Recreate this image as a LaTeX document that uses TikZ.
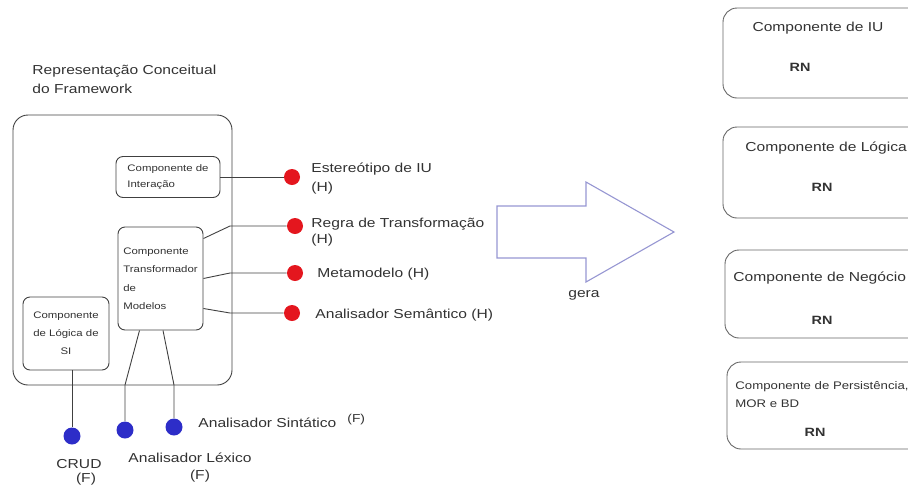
\documentclass[tikz,border=0pt]{standalone}
\usepackage{fontspec}
\setmainfont{Liberation Sans}[FakeStretch=1.2]
\definecolor{hred}{RGB}{228,22,30}
\definecolor{fblue}{RGB}{45,45,200}
\definecolor{seta}{RGB}{150,150,210}
\definecolor{texto}{RGB}{50,50,50}
\begin{document}
\begin{tikzpicture}[x=1pt, y=-1pt, line width=0.9pt,
    comp/.style={draw=black!75, rounded corners=7, font=\fontsize{9.5}{16}\selectfont, text=texto, inner sep=0},
    camada/.style={draw=black!60, rounded corners=14},
    hdot/.style={circle, fill=hred, inner sep=0, minimum size=16},
    fdot/.style={circle, fill=fblue, inner sep=0, minimum size=17},
    lbl/.style={font=\fontsize{13}{17}\selectfont, text=texto, inner sep=0},
    rn/.style={font=\fontsize{12}{14}\selectfont\bfseries, text=texto, inner sep=0, anchor=base}]
  \clip (0,0) rectangle (908,491);
  \node[lbl, anchor=base west] (tit1) at (32,74) {Representação Conceitual};
  \node[lbl, anchor=base west] (tit2) at (32,93) {do Framework};
  \draw[black!75, rounded corners=15] (13,115) rectangle (232,385);
  \node[comp, minimum width=104, minimum height=41, align=left] (inter) at (168,177) {Componente de\\Interação};
  \node[comp, minimum width=85, minimum height=103, align=left, font=\fontsize{9.5}{18.5}\selectfont] (trans) at (160.5,278.5) {Componente\\Transformador\\de\\Modelos};
  \node[comp, minimum width=86, minimum height=73, align=center, font=\fontsize{9.5}{18}\selectfont] (logica) at (66,333.5) {Componente\\de Lógica de\\SI};
  % componentes hot spot
  \node[hdot] (e) at (292,177) {};
  \node[hdot] (r) at (295,226) {};
  \node[hdot] (m) at (295,273) {};
  \node[hdot] (a) at (292,313) {};
  \draw[black!75] (inter.east) -- (e);
  \draw[black!75] ([yshift=40]trans.east) -- ([xshift=-65]r.center) -- (r);
  \draw[black!75] (trans.east) -- ([xshift=-65]m.center) -- (m);
  \draw[black!75] ([yshift=-30]trans.east) -- ([xshift=-62]a.center) -- (a);
  \node[lbl, anchor=base west] (e1) at (311,172) {Estereótipo de IU};
  \node[lbl, anchor=base west] (e2) at (311,191) {(H)};
  \node[lbl, anchor=base west] (r1) at (311,227) {Regra de Transformação};
  \node[lbl, anchor=base west] (r2) at (311,243) {(H)};
  \node[lbl, anchor=base west] (m1) at (317,277) {Metamodelo (H)};
  \node[lbl, anchor=base west] (a1) at (315,318) {Analisador Semântico (H)};
  % componentes frozen spot
  \node[fdot] (crud) at (72,436) {};
  \node[fdot] (lex) at (125,430) {};
  \node[fdot] (sin) at (174,427) {};
  \draw[black!75] (logica.south -| crud) -- (crud);
  \draw[black!75] ([xshift=-21]trans.south) -- ([yshift=45]lex.center) -- (lex);
  \draw[black!75] ([xshift=2.5]trans.south) -- ([yshift=42]sin.center) -- (sin);
  \node[lbl, anchor=base west] (s1) at (198,427) {Analisador Sintático};
  \node[lbl, anchor=base west, font=\fontsize{11.5}{13}\selectfont] (s2) at (347,422) {(F)};
  \node[lbl, anchor=base] (c1) at (79,468) {CRUD};
  \node[lbl, anchor=base] (c2) at (86,482) {(F)};
  \node[lbl, anchor=base] (l1) at (190,462) {Analisador Léxico};
  \node[lbl, anchor=base] (l2) at (200,479) {(F)};
  % seta
  \draw[seta, line width=1.1pt] (497,206) -- (586,206) -- (586,182) -- (674,232) -- (586,282) -- (586,258) -- (497,258) -- cycle;
  \node[lbl, anchor=base] (gera) at (584,297) {gera};
  % camadas geradas
  \draw[camada] (723,8) rectangle (922,98);
  \draw[camada] (723,127) rectangle (922,218);
  \draw[camada] (725,250) rectangle (922,338);
  \draw[camada] (727,362) rectangle (922,449);
  \node[lbl, anchor=base] (k1) at (818,31) {Componente de IU};
  \node[rn] (rn1) at (800,71) {RN};
  \node[lbl, anchor=base west] (k2) at (745,151) {Componente de Lógica};
  \node[rn] (rn2) at (822,191) {RN};
  \node[lbl, anchor=base west] (k3) at (733,281) {Componente de Negócio};
  \node[rn] (rn3) at (822,324) {RN};
  \node[lbl, anchor=base west, font=\fontsize{11}{13}\selectfont] (k4) at (735,389) {Componente de Persistência,};
  \node[lbl, anchor=base west, font=\fontsize{11}{13}\selectfont] (k5) at (735,407) {MOR e BD};
  \node[rn] (rn4) at (815,436) {RN};
\end{tikzpicture}
\end{document}
